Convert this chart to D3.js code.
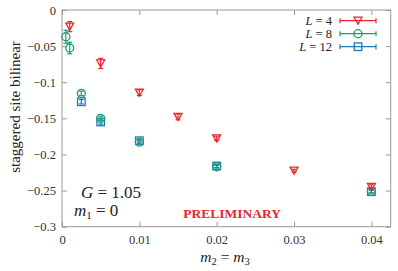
<!DOCTYPE html>
<html><head><meta charset="utf-8">
<script src="https://cdn.jsdelivr.net/npm/d3@7"></script>
<style>body{margin:0;background:#fff}svg{display:block}text{font-family:"Liberation Serif","DejaVu Serif",serif}</style>
</head><body><svg id="c" width="398" height="271"></svg>
<script>
const xTicks = [0, 0.01, 0.02, 0.03, 0.04];
const yTicks = [0, -0.05, -0.1, -0.15, -0.2, -0.25, -0.3];
const L4_x = [0.001, 0.005, 0.01, 0.015, 0.02, 0.03, 0.04];
const L4_y = [-0.023, -0.074, -0.1145, -0.148, -0.1777, -0.2225, -0.245];
const L4_e = [0.007, 0.007, 0.004, 0.004, 0.003, 0.002, 0.003];
const L8_x = [0.0005, 0.001, 0.0025, 0.005, 0.01, 0.02, 0.04];
const L8_y = [-0.037, -0.0526, -0.1154, -0.150, -0.183, -0.217, -0.251];
const L8_e = [0.009, 0.008, 0.003, 0.003, 0.002, 0.002, 0.002];
const L12_x = [0.0025, 0.005, 0.01, 0.02, 0.04];
const L12_y = [-0.127, -0.155, -0.181, -0.216, -0.2515];
const L12_e = [0.003, 0.003, 0.002, 0.002, 0.002];

const series = [
  {name:"4", xs:L4_x, ys:L4_y, es:L4_e, color:"#e8262a", shape:"tri"},
  {name:"8", xs:L8_x, ys:L8_y, es:L8_e, color:"#1a9c78", shape:"circ"},
  {name:"12", xs:L12_x, ys:L12_y, es:L12_e, color:"#2079b4", shape:"sq"}
];

const svg = d3.select("#c");
const m = {l:62, t:10, r:390.7, b:226.7};
const x = d3.scaleLinear().domain([0, 0.0425]).range([m.l, m.r]);
const y = d3.scaleLinear().domain([-0.3, 0]).range([m.b, m.t]);
const axisCol = "#999";

svg.append("rect").attr("x", m.l).attr("y", m.t).attr("width", m.r-m.l).attr("height", m.b-m.t)
  .attr("fill","none").attr("stroke", axisCol).attr("stroke-width",1);

const fmt = d => d === 0 ? "0" : String(d).replace("-", "\u2212");
const gx = svg.append("g").attr("transform",`translate(0,${m.b})`)
  .call(d3.axisBottom(x).tickValues(xTicks).tickSize(-5).tickPadding(8).tickFormat(fmt));
const gxt = svg.append("g").attr("transform",`translate(0,${m.t})`)
  .call(d3.axisTop(x).tickValues(xTicks).tickSize(-5).tickFormat(""));
const gy = svg.append("g").attr("transform",`translate(${m.l},0)`)
  .call(d3.axisLeft(y).tickValues(yTicks).tickSize(-5).tickPadding(6).tickFormat(fmt));
const gyr = svg.append("g").attr("transform",`translate(${m.r},0)`)
  .call(d3.axisRight(y).tickValues(yTicks).tickSize(-5).tickFormat(""));
[gx,gxt,gy,gyr].forEach(g=>{
  g.select(".domain").remove();
  g.selectAll(".tick line").attr("stroke", axisCol);
  g.selectAll("text").attr("font-size", 12.5).attr("fill","#333").attr("font-family","Liberation Serif, serif");
});

function marker(g, shape, cx, cy, color){
  if(shape==="tri"){
    g.append("path").attr("d", `M${cx-4},${cy-3.5}L${cx+4},${cy-3.5}L${cx},${cy+3.5}Z`)
      .attr("fill","none").attr("stroke",color).attr("stroke-width",1.3);
  } else if(shape==="circ"){
    g.append("circle").attr("cx",cx).attr("cy",cy).attr("r",4).attr("fill","none").attr("stroke",color).attr("stroke-width",1.3);
  } else {
    g.append("rect").attr("x",cx-3.8).attr("y",cy-3.8).attr("width",7.6).attr("height",7.6).attr("fill","none").attr("stroke",color).attr("stroke-width",1.3);
  }
}

const plot = svg.append("g");
[series[2], series[1], series[0]].forEach(s=>{
  const g = plot.append("g");
  s.xs.forEach((xv,i)=>{
    const cx = x(xv), cy = y(s.ys[i]);
    const y1 = y(s.ys[i]+s.es[i]), y2 = y(s.ys[i]-s.es[i]);
    g.append("line").attr("x1",cx).attr("x2",cx).attr("y1",y1).attr("y2",y2).attr("stroke",s.color).attr("stroke-width",1.2);
    [y1,y2].forEach(yy=>g.append("line").attr("x1",cx-2.5).attr("x2",cx+2.5).attr("y1",yy).attr("y2",yy).attr("stroke",s.color).attr("stroke-width",1.2));
    marker(g, s.shape, cx, cy, s.color);
  });
});

const leg = svg.append("g");
series.forEach((s,i)=>{
  const ly = 20.7 + i*13;
  const t = leg.append("text").attr("x",332).attr("y",ly+4).attr("text-anchor","end").attr("font-size",12.5).attr("fill","#222");
  t.append("tspan").attr("font-style","italic").text("L");
  t.append("tspan").text(" = " + s.name);
  leg.append("line").attr("x1",340).attr("x2",376).attr("y1",ly).attr("y2",ly).attr("stroke",s.color).attr("stroke-width",1.2);
  [340,376].forEach(xx=>leg.append("line").attr("x1",xx).attr("x2",xx).attr("y1",ly-2.5).attr("y2",ly+2.5).attr("stroke",s.color).attr("stroke-width",1.2));
  marker(leg, s.shape, 358, ly, s.color);
});

const xl = svg.append("text").attr("x",225).attr("y",262).attr("text-anchor","middle").attr("font-size",15.5).attr("fill","#222");
xl.append("tspan").attr("font-style","italic").text("m");
xl.append("tspan").attr("font-size",10.5).attr("dy",3).text("2");
xl.append("tspan").attr("dy",-3).text(" = ");
xl.append("tspan").attr("font-style","italic").text("m");
xl.append("tspan").attr("font-size",10.5).attr("dy",3).text("3");

svg.append("text").attr("transform",`translate(20,107) rotate(-90)`).attr("text-anchor","middle")
  .attr("font-size",15).attr("fill","#222").text("staggered site bilinear");

const g1 = svg.append("text").attr("x",81).attr("y",198).attr("font-size",17).attr("fill","#222");
g1.append("tspan").attr("font-style","italic").text("G");
g1.append("tspan").text(" = 1.05");
const g2 = svg.append("text").attr("x",74).attr("y",216).attr("font-size",17).attr("fill","#222");
g2.append("tspan").attr("font-style","italic").text("m");
g2.append("tspan").attr("font-size",11).attr("dy",3).text("1");
g2.append("tspan").attr("dy",-3).text(" = 0");

svg.append("text").attr("x",281).attr("y",218).attr("text-anchor","end").attr("font-size",13.5).attr("font-weight","bold")
  .attr("fill","#e8262a").text("PRELIMINARY");
</script></body></html>
